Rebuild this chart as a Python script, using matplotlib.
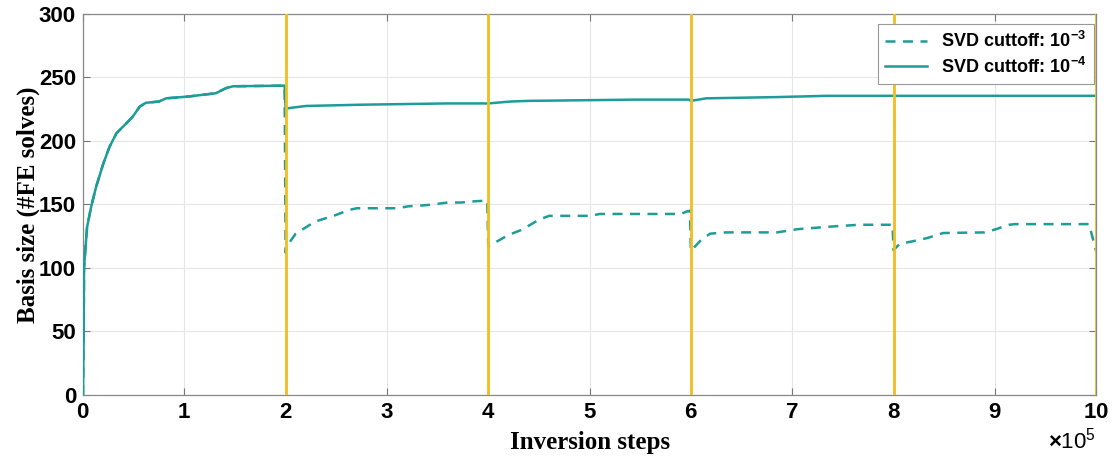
import matplotlib.pyplot as plt
from matplotlib.ticker import MultipleLocator

# Solid line: SVD cutoff 1e-4 (x in inversion steps)
steps_1e4 = [0, 700, 1000, 4000, 8000, 13000, 20000, 26000, 33000, 43000, 49000, 56000,
             62000, 75000, 82000, 105000, 115000, 131000, 141000, 148000, 199000,
             200000, 205000, 220000, 275000, 360000, 398000, 400000, 422000, 439000,
             545000, 598000, 600000, 615000, 685000, 735000, 800000, 1000000]
basis_1e4 = [0, 50, 100, 132, 148, 164, 182, 195, 206, 214, 219, 227,
             230, 231, 233.5, 235, 236, 237.5, 241.5, 243, 243.5,
             225.5, 226, 227.5, 228.5, 229.5, 229.5, 229.5, 231, 231.5,
             232.5, 232.5, 231.5, 233.5, 234.5, 235.5, 235.5, 235.5]

# Dashed line: SVD cutoff 1e-3 (same as 1e-4 up to the first restart)
steps_1e3 = steps_1e4[:21] + [
    200000, 201000, 210000, 229000, 249000, 262000, 270000, 310000, 321000, 340000,
    360000, 373000, 387000, 399000,
    400000, 420000, 433000, 450000, 460000, 501000, 510000, 590000, 596000, 599000,
    600000, 610000, 619000, 635000, 685000, 705000, 737000, 766000, 799000,
    800000, 806000, 819000, 833000, 849000, 890000, 901000, 914000, 920000, 993000,
    1000000]
basis_1e3 = basis_1e4[:21] + [
    112, 117, 127, 136.5, 141.5, 145.5, 147, 147, 148.5, 149.5,
    151.5, 151.5, 152.5, 153,
    117, 126, 130, 138, 141, 141, 142.5, 142.5, 144.5, 145,
    113.5, 122, 127, 128, 128, 130.5, 132.5, 134, 134,
    114, 119, 121, 123.5, 127.5, 128, 130.5, 134, 134.5, 134.5,
    113]

restart_steps = [200000, 400000, 600000, 800000, 1000000]

teal = '#1d9c98'
gold = '#F0BE1E'

plt.rcParams['mathtext.fontset'] = 'custom'
plt.rcParams['mathtext.rm'] = 'Liberation Sans:bold'
plt.rcParams['mathtext.bf'] = 'Liberation Sans:bold'
plt.rcParams['mathtext.default'] = 'rm'

fig = plt.figure(figsize=(11.14, 4.62), dpi=100)
ax = fig.add_axes([0.0745, 0.145, 0.9095, 0.825])

ax.plot(steps_1e3, basis_1e3, color=teal, linewidth=1.8, linestyle=(0, (4, 3)),
        label=r'SVD cuttoff: 10$^{-3}$', zorder=3)
ax.plot(steps_1e4, basis_1e4, color=teal, linewidth=1.8,
        label=r'SVD cuttoff: 10$^{-4}$', zorder=4)
for s in restart_steps:
    ax.axvline(s, color=gold, linewidth=2, zorder=5)

ax.set_xlim(0, 1000000)
ax.set_ylim(0, 300)
ax.xaxis.set_major_locator(MultipleLocator(100000))
ax.yaxis.set_major_locator(MultipleLocator(50))
ax.ticklabel_format(axis='x', style='sci', scilimits=(5, 5), useMathText=True)
ax.grid(True, color='#e6e6e6', linewidth=0.8)
ax.set_axisbelow(True)

ax.tick_params(direction='in', top=True, right=True, length=5, color='#777777',
               labelsize=16, pad=5)
for lab in ax.get_xticklabels() + ax.get_yticklabels():
    lab.set_fontweight('bold')
    lab.set_family('Liberation Sans')
off = ax.xaxis.get_offset_text()
off.set_fontsize(16)
off.set_family('Liberation Sans')
for sp in ax.spines.values():
    sp.set_color('#888888')
    sp.set_linewidth(0.9)

ax.set_xlabel('Inversion steps', fontsize=18, fontweight='bold',
              family='Liberation Serif', labelpad=6)
ax.set_ylabel('Basis size (#FE solves)', fontsize=18, fontweight='bold',
              family='Liberation Serif', labelpad=-1)

leg = ax.legend(loc='upper right', bbox_to_anchor=(0.998, 0.974), borderaxespad=0,
                prop={'family': 'Liberation Sans', 'weight': 'bold', 'size': 13},
                fancybox=False, framealpha=1, edgecolor='#999999',
                handlelength=2.3, borderpad=0.4, labelspacing=0.3)
leg.get_frame().set_linewidth(0.8)
leg.set_zorder(10)

plt.savefig('out.png', dpi=100)
